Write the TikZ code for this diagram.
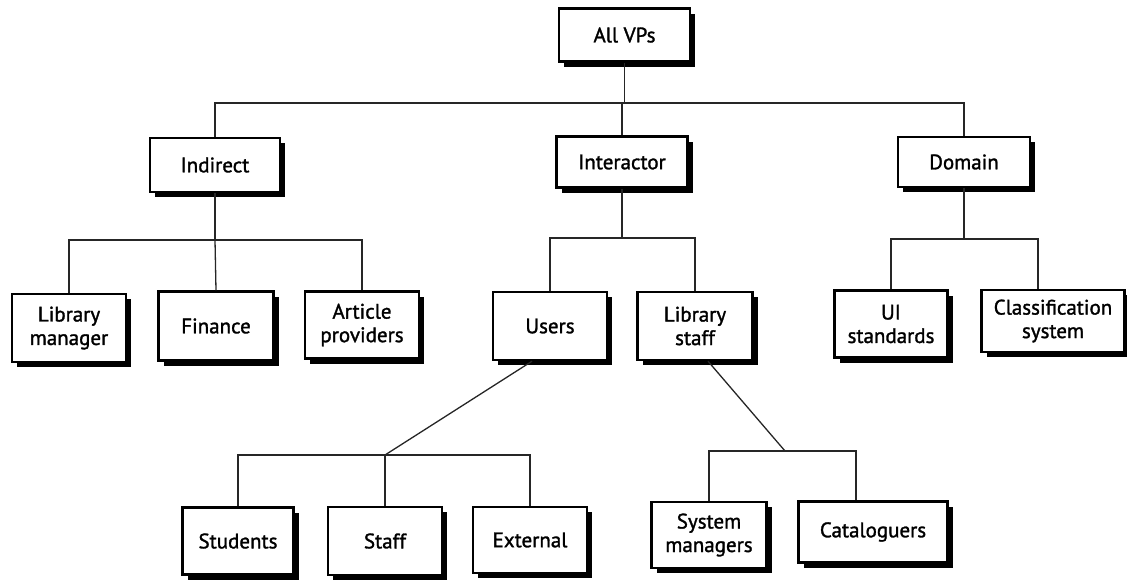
\documentclass[tikz,border=0pt]{standalone}
\usepackage{fontspec}
\setmainfont{PT Sans}[FakeBold=1.4]
\usetikzlibrary{shadows}
\begin{document}
\begin{tikzpicture}[x=1pt,y=-1pt,
  vpbox/.style={draw=black, line width=2.4pt, fill=white, align=center,
    inner sep=2pt, font=\fontsize{21}{23.5}\selectfont\fontseries{m}\selectfont,
    drop shadow={shadow xshift=5pt, shadow yshift=-5pt, fill=black, opacity=1}},
  link/.style={draw=black!85, line width=1.3pt}]
\useasboundingbox (0,0) rectangle (1127,584);

% top level
\node[vpbox, minimum width=131pt, minimum height=53pt] (allvps) at (624.5,35) {All VPs};

% second level
\node[vpbox, minimum width=130pt, minimum height=54pt] (indirect) at (215,165) {Indirect};
\node[vpbox, minimum width=131pt, minimum height=51pt] (interactor) at (622,162) {Interactor};
\node[vpbox, minimum width=132pt, minimum height=50pt] (domain) at (964,162) {Domain};

% third level
\node[vpbox, minimum width=114pt, minimum height=68pt] (libmgr) at (69,328) {Library\\manager};
\node[vpbox, minimum width=115pt, minimum height=69pt] (finance) at (216,326) {Finance};
\node[vpbox, minimum width=114pt, minimum height=67pt] (article) at (362,325) {Article\\providers};
\node[vpbox, minimum width=114pt, minimum height=68pt] (users) at (550,326) {Users};
\node[vpbox, minimum width=115pt, minimum height=68pt] (libstaff) at (695,326) {Library\\staff};
\node[vpbox, minimum width=113pt, minimum height=67pt] (ui) at (891,324) {UI\\standards};
\node[vpbox, minimum width=143pt, minimum height=62pt] (classif) at (1053,321) {Classification\\system};

% fourth level
\node[vpbox, minimum width=111pt, minimum height=67pt] (students) at (238,541) {Students};
\node[vpbox, minimum width=114pt, minimum height=68pt] (staff) at (385,541) {Staff};
\node[vpbox, minimum width=114pt, minimum height=66pt] (external) at (530,540) {External};
\node[vpbox, minimum width=115pt, minimum height=66pt] (sysmgr) at (709,535) {System\\managers};
\node[vpbox, minimum width=149pt, minimum height=61pt] (catal) at (873,532) {Cataloguers};

% junction points of the connector bars
\coordinate (j0) at (624.5,103);
\coordinate (j1) at (215,240);
\coordinate (j2) at (622,238);
\coordinate (j3) at (964,239);
\coordinate (j4) at (385,455);
\coordinate (j5) at (785,451);

% connectors
\draw[link] (allvps.south) -- (j0);
\draw[link] (indirect.north) |- (j0) -| (domain.north);
\draw[link] (interactor.north |- j0) -- (interactor.north);

\draw[link] (indirect.south) -- (j1);
\draw[link] (libmgr.north) |- (j1) -| (article.north);
\draw[link] (j1) -- (finance.north);

\draw[link] (interactor.south) -- (j2);
\draw[link] (users.north) |- (j2) -| (libstaff.north);

\draw[link] (domain.south) -- (j3);
\draw[link] (ui.north) |- (j3) -| ([xshift=-15pt]classif.north);

\draw[link] ([xshift=-18pt]users.south) -- (j4);
\draw[link] (students.north) |- (j4) -| (external.north);
\draw[link] (j4) -- (staff.north);

\draw[link] ([xshift=13pt]libstaff.south) -- (j5);
\draw[link] (sysmgr.north) |- (j5) -| ([xshift=-17pt]catal.north);
\end{tikzpicture}
\end{document}
